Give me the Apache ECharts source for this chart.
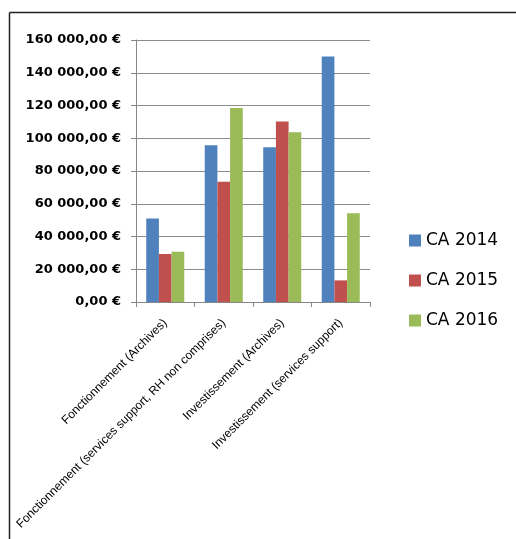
<!DOCTYPE html>
<html><head><meta charset="utf-8">
<script src="https://cdn.jsdelivr.net/npm/echarts@6/dist/echarts.min.js"></script>
<style>html,body{margin:0;padding:0;background:#fff}#c{width:516px;height:539px}</style>
</head><body><div id="c"></div>
<script>
const categories = ["Fonctionnement (Archives)", "Fonctionnement (services support, RH non comprises)", "Investissement (Archives)", "Investissement (services support)"];
const seriesNames = ["CA 2014", "CA 2015", "CA 2016"];
const ca2014 = [51000, 95700, 94500, 150000];
const ca2015 = [29300, 73500, 110300, 13200];
const ca2016 = [30700, 118500, 103600, 54200];
const yTicks = [0, 20000, 40000, 60000, 80000, 100000, 120000, 140000, 160000];
const colors = ["#4F81BD", "#C0504D", "#9BBB59"];

function fmt(v){
  const s = Math.round(v).toString().replace(/\B(?=(\d{3})+(?!\d))/g, " ");
  return s + ",00 €";
}
const chart = echarts.init(document.getElementById('c'), null, {renderer:'canvas'});
const seriesData = [ca2014, ca2015, ca2016];
chart.setOption({
  animation:false,
  backgroundColor:'#fff',
  textStyle:{fontFamily:'Liberation Sans'},
  graphic:[
    {type:'line', shape:{x1:9.5,y1:12.5,x2:516,y2:12.5}, style:{stroke:'#222',lineWidth:1.5}},
    {type:'line', shape:{x1:9.5,y1:12.5,x2:9.5,y2:539}, style:{stroke:'#222',lineWidth:1.5}}
  ],
  legend:{
    orient:'vertical', left:404, top:227, itemWidth:12, itemHeight:12, itemGap:23,
    icon:'rect', data:seriesNames,
    textStyle:{fontSize:17, color:'#000', fontFamily:'DejaVu Sans'}
  },
  grid:{left:136, right:146, top:40, bottom:237, containLabel:false},
  xAxis:{
    type:'category', data:categories,
    axisLine:{lineStyle:{color:'#888'}},
    axisTick:{show:true, length:5, lineStyle:{color:'#888'}},
    axisLabel:{rotate:45, fontSize:12, color:'#000', interval:0, margin:19, fontFamily:'Liberation Sans'}
  },
  yAxis:{
    type:'value', min:yTicks[0], max:yTicks[yTicks.length-1], interval:yTicks[1]-yTicks[0],
    axisLine:{show:true, lineStyle:{color:'#888'}},
    axisTick:{show:true, length:5, lineStyle:{color:'#888'}},
    splitLine:{lineStyle:{color:'#8c8c8c', width:1}},
    axisLabel:{formatter:fmt, fontSize:13, fontWeight:'bold', color:'#000', margin:15, fontFamily:'DejaVu Sans'}
  },
  series: seriesNames.map((n,i)=>({
    name:n, type:'bar', data:seriesData[i], barGap:'0%', barCategoryGap:'35%',
    itemStyle:{color:colors[i]}
  }))
});
</script></body></html>
